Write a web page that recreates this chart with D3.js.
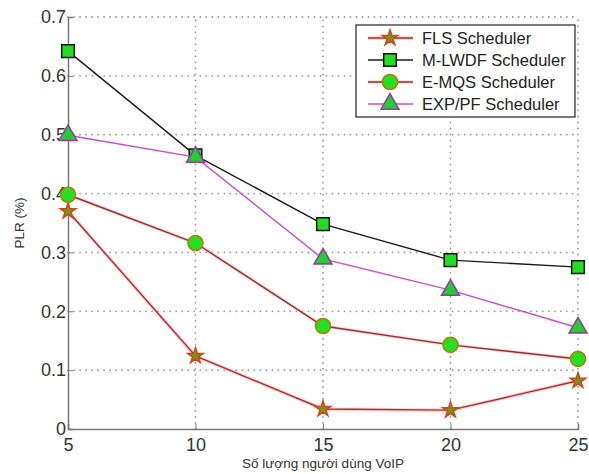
<!DOCTYPE html>
<html>
<head>
<meta charset="utf-8">
<script src="https://cdn.jsdelivr.net/npm/d3@7"></script>
<style>
  body { margin: 0; background: #fff; }
  svg { font-family: "Liberation Sans", Arial, sans-serif; }
</style>
</head>
<body>
<div id="chart"></div>
<script>
const users = [5, 10, 15, 20, 25]
const fls = [0.370, 0.124, 0.034, 0.032, 0.082]
const mlwdf = [0.642, 0.465, 0.348, 0.287, 0.275]
const emqs = [0.398, 0.316, 0.175, 0.143, 0.119]
const exppf = [0.499, 0.462, 0.289, 0.236, 0.172]
const yTicks = [0, 0.1, 0.2, 0.3, 0.4, 0.5, 0.6, 0.7]

const series = [
  {name: 'FLS Scheduler', values: fls, line: '#b22a2a', glow: '#f3a0a0', fill: '#6f9a1a', edge: '#d8421c', symbol: d3.symbolStar, size: 75},
  {name: 'M-LWDF Scheduler', values: mlwdf, line: '#1a1a1a', glow: null, fill: '#22dd22', edge: '#111', symbol: d3.symbolSquare, size: 160},
  {name: 'E-MQS Scheduler', values: emqs, line: '#9c2b2b', glow: '#f0b0b0', fill: '#22e022', edge: '#b8780a', symbol: d3.symbolCircle, size: 180},
  {name: 'EXP/PF Scheduler', values: exppf, line: '#c84ec8', glow: null, fill: '#22cc33', edge: '#9a3aa0', symbol: d3.symbolTriangle, size: 140}
]

const width = 589, height = 474
const margin = {top: 17, right: 11, bottom: 45, left: 68}

const svg = d3.select('#chart').append('svg')
  .attr('width', width)
  .attr('height', height)

const x = d3.scaleLinear().domain([5, 25]).range([margin.left, width - margin.right])
const y = d3.scaleLinear().domain([0, 0.7]).range([height - margin.bottom, margin.top])

// dotted grid with round dots
const grid = svg.append('g')
grid.selectAll('path.gx').data(users.slice(1)).enter().append('path')
  .attr('class', 'gx')
  .attr('d', d => `M${x(d)},${y(0)}V${y(0.7)}`)
grid.selectAll('path.gy').data(yTicks.slice(1)).enter().append('path')
  .attr('class', 'gy')
  .attr('d', d => `M${x(5)},${y(d)}H${x(25)}`)
grid.selectAll('path')
  .attr('fill', 'none')
  .attr('stroke', '#999').attr('stroke-width', 1.8)
  .attr('stroke-linecap', 'round').attr('stroke-dasharray', '0.01,6')

const xAxis = svg.append('g')
  .attr('transform', `translate(0,${y(0)})`)
  .call(d3.axisBottom(x).tickValues(users).tickSize(-5).tickPadding(8).tickFormat(d3.format('d')))
const yAxis = svg.append('g')
  .attr('transform', `translate(${x(5)},0)`)
  .call(d3.axisLeft(y).tickValues(yTicks).tickSize(-5).tickPadding(2).tickFormat(d => d === 0 ? '0' : d3.format('.1f')(d)))

;[xAxis, yAxis].forEach(a => {
  a.attr('font-size', 18).attr('font-family', null)
  a.select('.domain').attr('stroke', '#777').attr('stroke-width', 1.5)
  a.selectAll('.tick line').attr('stroke', '#777')
  a.selectAll('.tick text').attr('fill', '#333')
})
xAxis.selectAll('.tick text').attr('dy', '0.8em')

svg.append('text')
  .attr('x', (x(5) + x(25)) / 2).attr('y', height - 6)
  .attr('text-anchor', 'middle').attr('fill', '#333')
  .attr('font-size', 13.5)
  .text('Số lượng người dùng VoIP')

svg.append('text')
  .attr('transform', `translate(24,${(y(0) + y(0.7)) / 2}) rotate(-90)`)
  .attr('text-anchor', 'middle').attr('fill', '#333')
  .attr('font-size', 13.5)
  .text('PLR (%)')

const line = d3.line().x((d, i) => x(users[i])).y(d => y(d))

series.forEach(s => {
  const g = svg.append('g')
  if (s.glow) {
    g.append('path').attr('d', line(s.values))
      .attr('fill', 'none').attr('stroke', s.glow).attr('stroke-width', 3.5).attr('opacity', 0.45)
  }
  g.append('path').attr('d', line(s.values))
    .attr('fill', 'none').attr('stroke', s.line).attr('stroke-width', 1.4)
  g.selectAll('path.mark').data(s.values).enter().append('path')
    .attr('class', 'mark')
    .attr('d', d3.symbol().type(s.symbol).size(s.size))
    .attr('transform', (d, i) => `translate(${x(users[i])},${y(d)})`)
    .attr('fill', s.fill).attr('stroke', s.edge).attr('stroke-width', 1.5)
})

// legend
const lx = 356, ly = 25, lw = 219, lh = 92
const legend = svg.append('g')
legend.append('rect')
  .attr('x', lx).attr('y', ly).attr('width', lw).attr('height', lh)
  .attr('fill', '#fff').attr('stroke', '#222').attr('stroke-width', 1.2)

series.forEach((s, i) => {
  const yy = ly + 13 + i * 22
  const row = legend.append('g')
  if (s.glow) {
    row.append('line').attr('x1', lx + 12).attr('x2', lx + 57).attr('y1', yy).attr('y2', yy)
      .attr('stroke', s.glow).attr('stroke-width', 3.5).attr('opacity', 0.45)
  }
  row.append('line').attr('x1', lx + 12).attr('x2', lx + 57).attr('y1', yy).attr('y2', yy)
    .attr('stroke', s.line).attr('stroke-width', 1.4)
  row.append('path')
    .attr('d', d3.symbol().type(s.symbol).size(s.size))
    .attr('transform', `translate(${lx + 34},${yy})`)
    .attr('fill', s.fill).attr('stroke', s.edge).attr('stroke-width', 1.5)
  row.append('text')
    .attr('x', lx + 66).attr('y', yy).attr('dy', '0.35em')
    .attr('fill', '#222').attr('font-size', 16.5)
    .text(s.name)
})
</script>
</body>
</html>
